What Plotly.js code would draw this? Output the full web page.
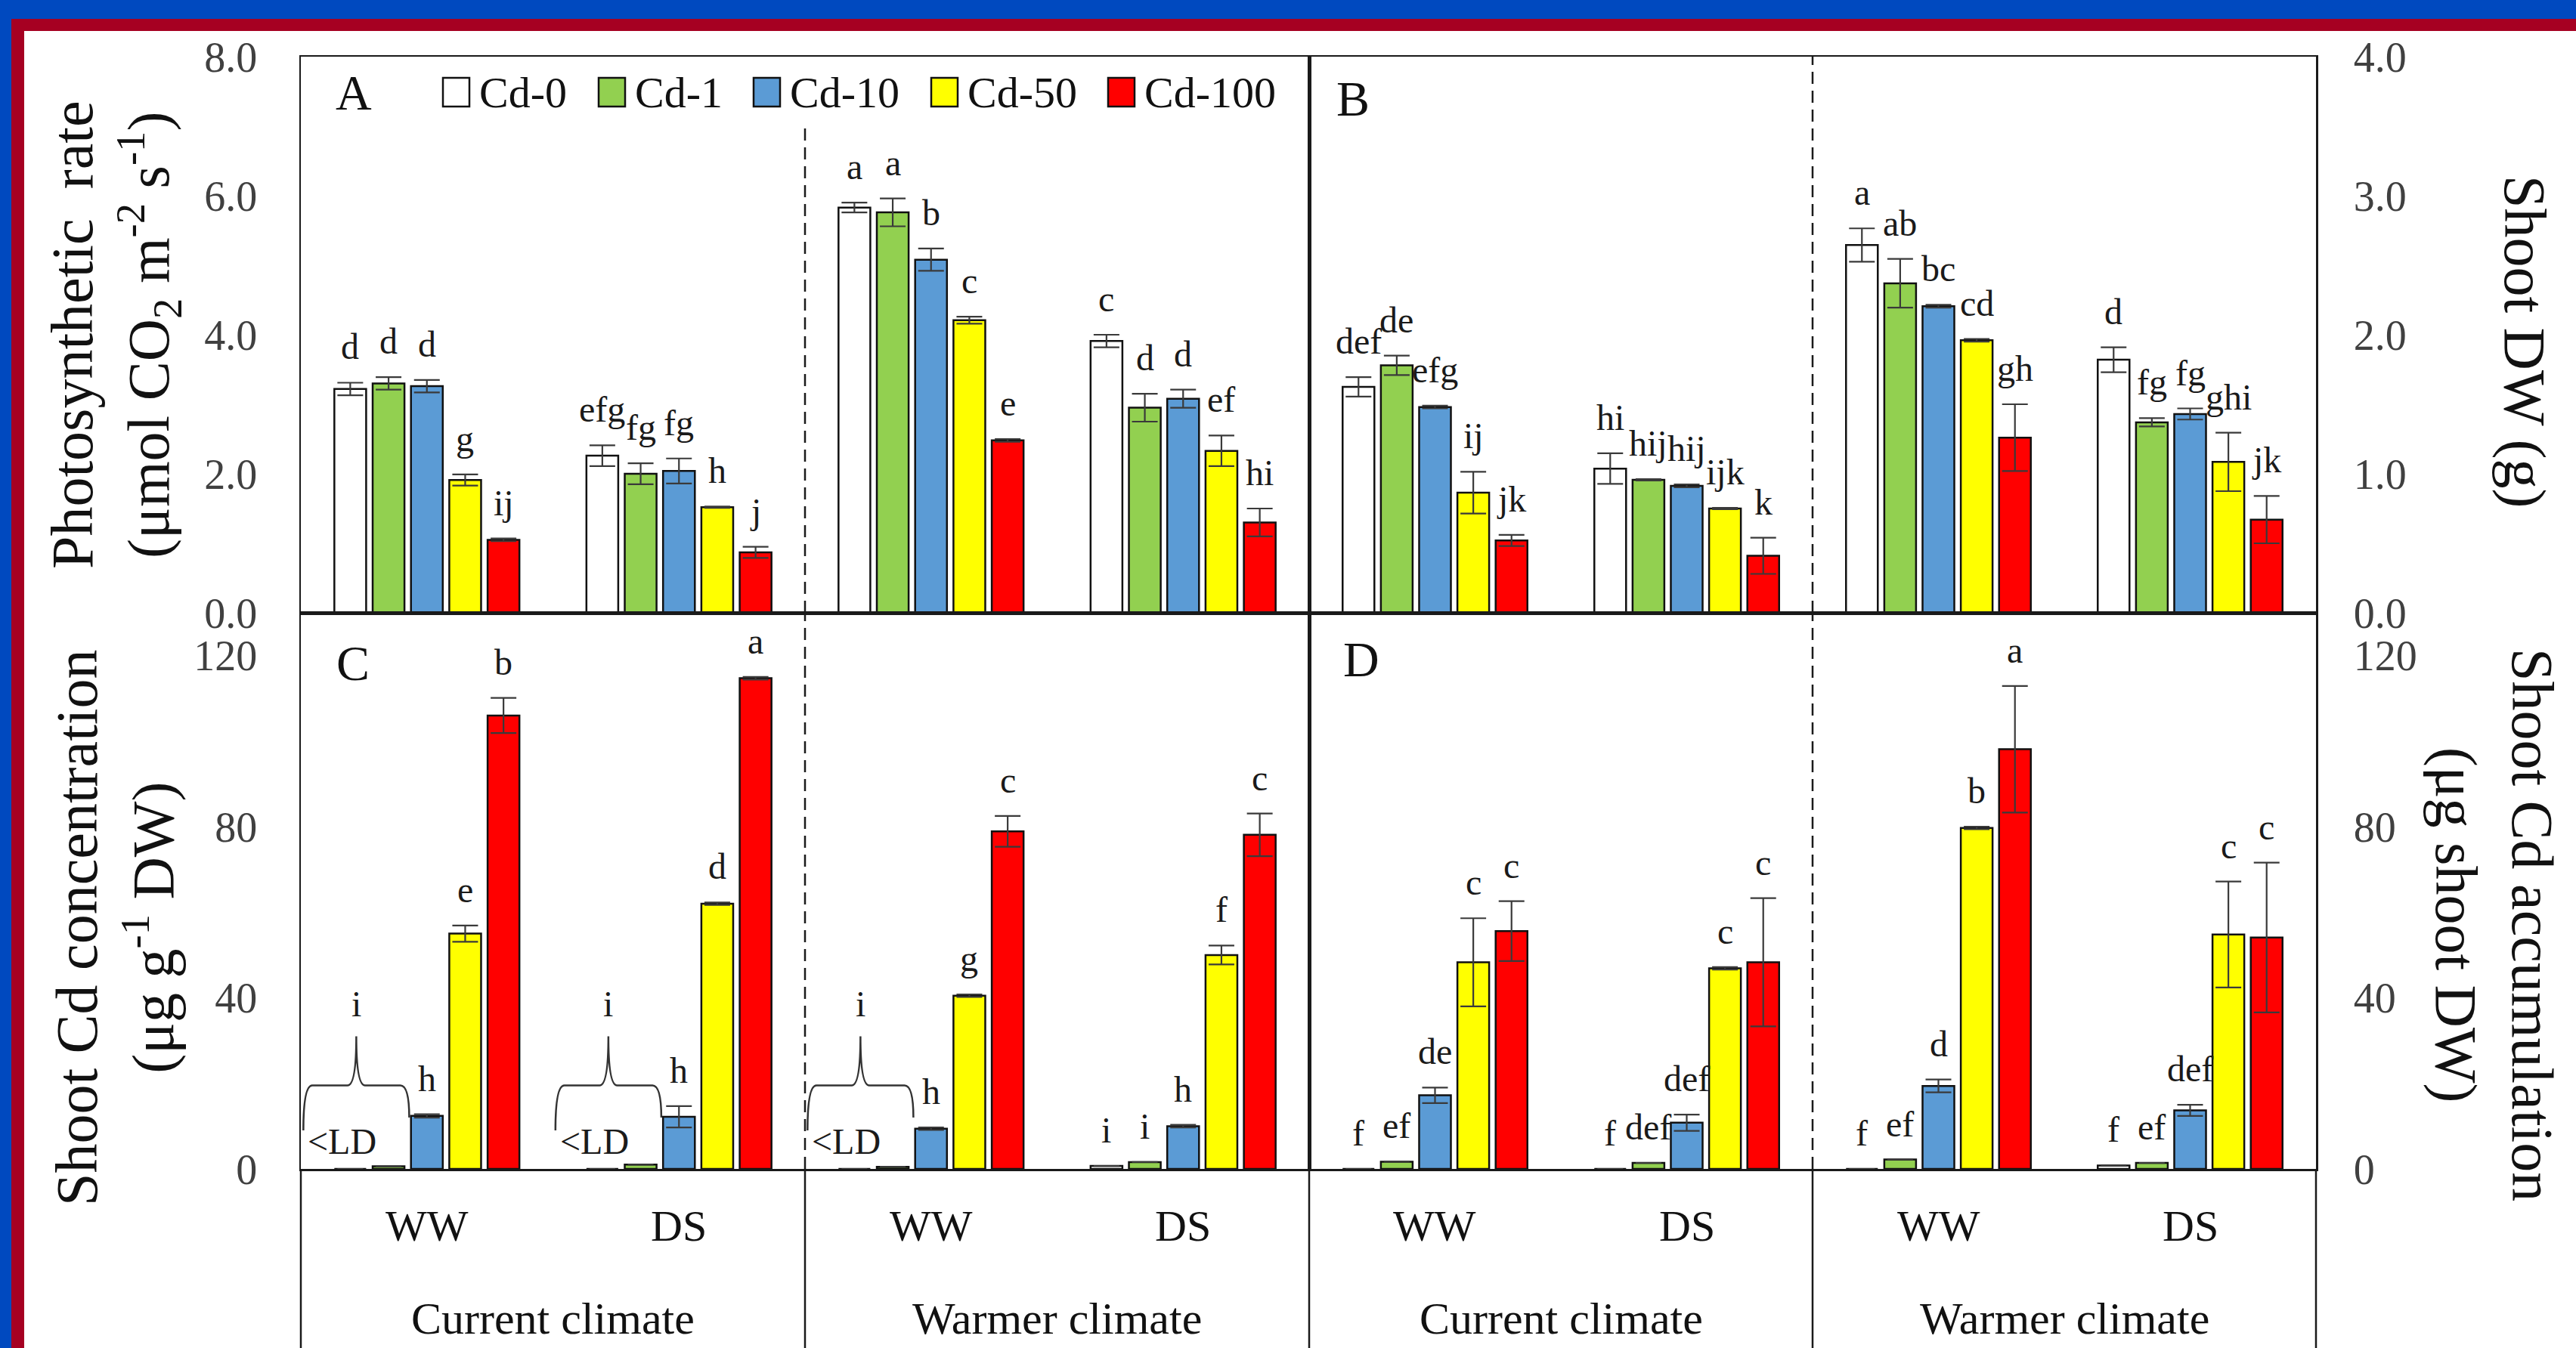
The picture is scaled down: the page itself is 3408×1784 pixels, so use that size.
<!DOCTYPE html>
<html>
<head>
<meta charset="utf-8">
<script src="https://cdn.plot.ly/plotly-3.0.1.min.js"></script>
<style>
html,body{margin:0;padding:0;background:#ffffff;}
#chart{width:3408px;height:1784px;}
</style>
</head>
<body>
<div id="chart"></div>
<script>
// ---------------- DATA ----------------
const series = ['Cd-0', 'Cd-1', 'Cd-10', 'Cd-50', 'Cd-100'];
const groups = ['Current climate WW', 'Current climate DS', 'Warmer climate WW', 'Warmer climate DS'];
const waterLabels = ['WW', 'DS', 'WW', 'DS'];
const climateLabels = ['Current climate', 'Warmer climate'];

const ticksA = [0, 2, 4, 6, 8];
const ticksB = [0, 1, 2, 3, 4];
const ticksCD = [0, 40, 80, 120];

// Panel A: photosynthetic rate (rows = series, cols = groups)
const A_values = [
  [3.22, 2.26, 5.83, 3.91],
  [3.30, 2.00, 5.76, 2.95],
  [3.26, 2.04, 5.08, 3.08],
  [1.91, 1.52, 4.21, 2.33],
  [1.05, 0.87, 2.48, 1.30]
];
const A_errors = [
  [0.09, 0.15, 0.07, 0.09],
  [0.09, 0.15, 0.20, 0.20],
  [0.09, 0.18, 0.16, 0.13],
  [0.08, 0.01, 0.05, 0.22],
  [0.02, 0.08, 0.02, 0.20]
];
const A_letters = [
  ['d', 'efg', 'a', 'c'],
  ['d', 'fg', 'a', 'd'],
  ['d', 'fg', 'b', 'd'],
  ['g', 'h', 'c', 'ef'],
  ['ij', 'j', 'e', 'hi']
];

// Panel B: shoot DW (g)
const B_values = [
  [1.625, 1.037, 2.645, 1.82],
  [1.78, 0.956, 2.37, 1.37],
  [1.48, 0.913, 2.205, 1.43],
  [0.864, 0.75, 1.96, 1.085],
  [0.52, 0.41, 1.26, 0.67]
];
const B_errors = [
  [0.07, 0.11, 0.12, 0.09],
  [0.07, 0.005, 0.175, 0.03],
  [0.01, 0.01, 0.01, 0.04],
  [0.15, 0.005, 0.01, 0.21],
  [0.04, 0.13, 0.24, 0.17]
];
const B_letters = [
  ['def', 'hi', 'a', 'd'],
  ['de', 'hij', 'ab', 'fg'],
  ['efg', 'hij', 'bc', 'fg'],
  ['ij', 'ijk', 'cd', 'ghi'],
  ['jk', 'k', 'gh', 'jk']
];

// Panel C: shoot Cd concentration
const C_values = [
  [0, 0, 0, 0.7],
  [0.6, 1.0, 0.5, 1.6],
  [12.4, 12.2, 9.4, 10.0],
  [55.0, 62.0, 40.5, 50.0],
  [106.0, 114.7, 78.9, 78.1]
];
const C_errors = [
  [0, 0, 0, 0],
  [0, 0, 0, 0],
  [0.4, 2.5, 0.3, 0.3],
  [1.9, 0.3, 0.3, 2.2],
  [4.1, 0.3, 3.6, 5.0]
];
const C_letters = [
  ['', '', '', 'i'],
  ['', '', '', 'i'],
  ['h', 'h', 'h', 'h'],
  ['e', 'd', 'g', 'f'],
  ['b', 'a', 'c', 'c']
];
const C_belowLD_groups = [0, 1, 2];
const C_belowLD_letter = 'i';
const belowLDText = '&lt;LD';

// Panel D: shoot Cd accumulation
const D_values = [
  [0, 0, 0, 0.8],
  [1.7, 1.4, 2.2, 1.4],
  [17.2, 10.8, 19.4, 13.7],
  [48.3, 46.9, 79.7, 54.8],
  [55.6, 48.3, 98.1, 54.1]
];
const D_errors = [
  [0, 0, 0, 0],
  [0, 0, 0, 0],
  [1.8, 1.9, 1.5, 1.3],
  [10.3, 0.3, 0.3, 12.4],
  [7.0, 15.0, 14.8, 17.5]
];
const D_letters = [
  ['f', 'f', 'f', 'f'],
  ['ef', 'def', 'ef', 'ef'],
  ['de', 'def', 'd', 'def'],
  ['c', 'c', 'b', 'c'],
  ['c', 'c', 'a', 'c']
];

// ---------------- STYLE / LAYOUT ----------------
const colors = ['#FFFFFF', '#92D050', '#5B9BD5', '#FFFF00', '#FF0000'];
const SERIF = '"Liberation Serif", "Times New Roman", serif';
const W = 3408, H = 1784;
const px = v => v / W;
const py = v => 1 - v / H;
const G = {xL: 398, xM: 1732, xR: 3064, yT: 75, yM: 811, yB: 1547};
const BARGAP = 0.24, GROUPGAP = 0.17;
const slotW = (1 - BARGAP) / series.length;
const xIdx = groups.map((g, i) => i);
const LINE = '#1a1a1a';

const panels = [
  {xa: 'x', ya: 'y', vals: A_values, errs: A_errors, labs: A_letters},
  {xa: 'x2', ya: 'y2', vals: B_values, errs: B_errors, labs: B_letters},
  {xa: 'x3', ya: 'y3', vals: C_values, errs: C_errors, labs: C_letters},
  {xa: 'x4', ya: 'y4', vals: D_values, errs: D_errors, labs: D_letters}
];

const traces = [];
const annotations = [];
const shapes = [];

panels.forEach(p => {
  series.forEach((s, si) => {
    traces.push({
      type: 'bar', name: s, x: xIdx, y: p.vals[si],
      xaxis: p.xa, yaxis: p.ya, showlegend: false, hoverinfo: 'skip',
      marker: {color: colors[si], line: {color: '#111111', width: 2.5}},
      error_y: {type: 'data', array: p.errs[si], visible: true, color: '#3a3a3a', thickness: 2.2, width: 17}
    });
    xIdx.forEach(gi => {
      const t = p.labs[si][gi];
      if (!t) return;
      annotations.push({
        xref: p.xa, yref: p.ya, x: gi + (si - 2) * slotW,
        y: p.vals[si][gi] + p.errs[si][gi],
        text: t, showarrow: false, xanchor: 'center', yanchor: 'bottom', yshift: 19,
        font: {family: SERIF, size: 48, color: '#1a1a1a'}
      });
    });
  });
});

// braces for values below limit of detection (panel C)
function bracePath(L, R, yl, yr, yh, yp) {
  const M = (L + R) / 2, dx = 0.035;
  return `M${L},${yl} Q${L},${yh} ${L + dx},${yh} L${M - dx},${yh} Q${M},${yh} ${M},${yp} ` +
         `Q${M},${yh} ${M + dx},${yh} L${R - dx},${yh} Q${R},${yh} ${R},${yr}`;
}
C_belowLD_groups.forEach(gi => {
  const L = gi - 0.49, R = gi - 0.07;
  shapes.push({type: 'path', xref: 'x3', yref: 'y3', path: bracePath(L, R, 9, 12, 19.5, 31),
    line: {color: '#333333', width: 2.5}});
  annotations.push({xref: 'x3', yref: 'y3', x: (L + R) / 2, y: 31, text: C_belowLD_letter, showarrow: false,
    xanchor: 'center', yanchor: 'bottom', yshift: 14, font: {family: SERIF, size: 48, color: '#1a1a1a'}});
  annotations.push({xref: 'x3', yref: 'y3', x: L, y: 6.5, text: belowLDText, showarrow: false,
    xanchor: 'left', yanchor: 'middle', xshift: 4, font: {family: SERIF, size: 48, color: '#1a1a1a'}});
});

// dashed dividers between climates
const dashStyle = {color: LINE, width: 2.5, dash: '16px,9px'};
shapes.push({type: 'line', xref: 'x', yref: 'y', x0: 1.5, x1: 1.5, y0: 0, y1: 7.05, line: dashStyle});
shapes.push({type: 'line', xref: 'x2', yref: 'y2', x0: 1.5, x1: 1.5, y0: 0, y1: 4, line: dashStyle});
shapes.push({type: 'line', xref: 'x3', yref: 'y3', x0: 1.5, x1: 1.5, y0: 0, y1: 130, line: dashStyle});
shapes.push({type: 'line', xref: 'x4', yref: 'y4', x0: 1.5, x1: 1.5, y0: 0, y1: 130, line: dashStyle});
// solid extensions into label area
['x3', 'x4'].forEach(xa => shapes.push({type: 'line', xref: xa, yref: 'paper', x0: 1.5, x1: 1.5,
  y0: 0, y1: py(G.yB), line: {color: LINE, width: 2.5}}));
[G.xL, G.xM, G.xR].forEach(x => shapes.push({type: 'line', xref: 'paper', yref: 'paper', x0: px(x), x1: px(x),
  y0: 0, y1: py(G.yB), line: {color: LINE, width: 2.5}}));

// category labels
['x3', 'x4'].forEach(xa => {
  waterLabels.forEach((w, gi) => annotations.push({xref: xa, yref: 'paper', x: gi, y: py(1622), text: w,
    showarrow: false, xanchor: 'center', yanchor: 'middle', font: {family: SERIF, size: 58, color: '#111111'}}));
  climateLabels.forEach((c, ci) => annotations.push({xref: xa, yref: 'paper', x: ci * 2 + 0.5, y: py(1745), text: c,
    showarrow: false, xanchor: 'center', yanchor: 'middle', font: {family: SERIF, size: 60, color: '#111111'}}));
});

// panel letters
[['A', 468, 123], ['B', 1790, 131], ['C', 467, 877], ['D', 1801, 872]].forEach(([t, x, y]) =>
  annotations.push({xref: 'paper', yref: 'paper', x: px(x), y: py(y), text: t, showarrow: false,
    xanchor: 'center', yanchor: 'middle', font: {family: SERIF, size: 66, color: '#111111'}}));

// axis titles
const titleFont = {family: SERIF, size: 78, color: '#111111'};
annotations.push({xref: 'paper', yref: 'paper', x: px(152), y: py(443), textangle: -90, showarrow: false,
  text: 'Photosynthetic&nbsp; rate<br>(μmol CO<sub>2</sub> m<sup>-2</sup> s<sup>-1</sup>)',
  xanchor: 'center', yanchor: 'middle', font: titleFont});
annotations.push({xref: 'paper', yref: 'paper', x: px(152), y: py(1228), textangle: -90, showarrow: false,
  text: 'Shoot Cd concentration<br>(μg g<sup>-1</sup> DW)',
  xanchor: 'center', yanchor: 'middle', font: titleFont});
annotations.push({xref: 'paper', yref: 'paper', x: px(3340), y: py(452), textangle: 90, showarrow: false,
  text: 'Shoot DW (g)', xanchor: 'center', yanchor: 'middle', font: titleFont});
annotations.push({xref: 'paper', yref: 'paper', x: px(3300), y: py(1224), textangle: 90, showarrow: false,
  text: 'Shoot Cd accumulation<br>(μg shoot DW)', xanchor: 'center', yanchor: 'middle', font: titleFont});

// legend (custom)
const legendBoxX = [586, 792, 997, 1232, 1466];
series.forEach((s, si) => {
  const x0 = legendBoxX[si];
  shapes.push({type: 'rect', xref: 'paper', yref: 'paper', x0: px(x0), x1: px(x0 + 35), y0: py(141), y1: py(103),
    fillcolor: colors[si], line: {color: '#111111', width: 2.5}});
  annotations.push({xref: 'paper', yref: 'paper', x: px(x0 + 46), y: py(122), text: s, showarrow: false,
    xanchor: 'left', yanchor: 'middle', font: {family: SERIF, size: 58, color: '#111111'}});
});

// outer frame (blue/red border)
const BLUE = '#0049BF', RED = '#A60022';
shapes.push({type: 'rect', xref: 'paper', yref: 'paper', x0: 0, x1: 1, y0: py(25), y1: 1, fillcolor: BLUE, line: {width: 0}});
shapes.push({type: 'rect', xref: 'paper', yref: 'paper', x0: 0, x1: px(15), y0: 0, y1: 1, fillcolor: BLUE, line: {width: 0}});
shapes.push({type: 'rect', xref: 'paper', yref: 'paper', x0: px(15), x1: 1, y0: py(41), y1: py(25), fillcolor: RED, line: {width: 0}});
shapes.push({type: 'rect', xref: 'paper', yref: 'paper', x0: px(15), x1: px(32), y0: 0, y1: py(25), fillcolor: RED, line: {width: 0}});

const xCommon = {range: [-0.5, 3.5], showticklabels: false, ticks: '', showgrid: false, zeroline: false,
  showline: true, mirror: true, linecolor: LINE, linewidth: 2.5, fixedrange: true};
const yCommon = {showgrid: false, zeroline: false, showline: true, mirror: true, linecolor: LINE, linewidth: 2.5,
  ticks: 'outside', tickcolor: 'rgba(0,0,0,0)', tickfont: {family: SERIF, size: 56, color: '#404040'}, fixedrange: true};

const domL = [px(G.xL), px(G.xM)], domR = [px(G.xM), px(G.xR)];
const domT = [py(G.yM), py(G.yT)], domB = [py(G.yB), py(G.yM)];

const layout = {
  width: W, height: H, margin: {l: 0, r: 0, t: 0, b: 0},
  paper_bgcolor: '#ffffff', plot_bgcolor: 'rgba(0,0,0,0)',
  barmode: 'group', bargap: BARGAP, bargroupgap: GROUPGAP, showlegend: false,
  font: {family: SERIF},
  xaxis: Object.assign({}, xCommon, {domain: domL, anchor: 'y'}),
  yaxis: Object.assign({}, yCommon, {domain: domT, anchor: 'x', side: 'left', range: [0, 8], tickvals: ticksA, tickformat: '.1f', ticklen: 44}),
  xaxis2: Object.assign({}, xCommon, {domain: domR, anchor: 'y2'}),
  yaxis2: Object.assign({}, yCommon, {domain: domT, anchor: 'x2', side: 'right', range: [0, 4], tickvals: ticksB, tickformat: '.1f', ticklen: 36}),
  xaxis3: Object.assign({}, xCommon, {domain: domL, anchor: 'y3'}),
  yaxis3: Object.assign({}, yCommon, {domain: domB, anchor: 'x3', side: 'left', range: [0, 130], tickvals: ticksCD, ticklen: 44}),
  xaxis4: Object.assign({}, xCommon, {domain: domR, anchor: 'y4'}),
  yaxis4: Object.assign({}, yCommon, {domain: domB, anchor: 'x4', side: 'right', range: [0, 130], tickvals: ticksCD, ticklen: 36}),
  annotations: annotations,
  shapes: shapes
};

Plotly.newPlot('chart', traces, layout, {staticPlot: true, displayModeBar: false});
</script>
</body>
</html>
